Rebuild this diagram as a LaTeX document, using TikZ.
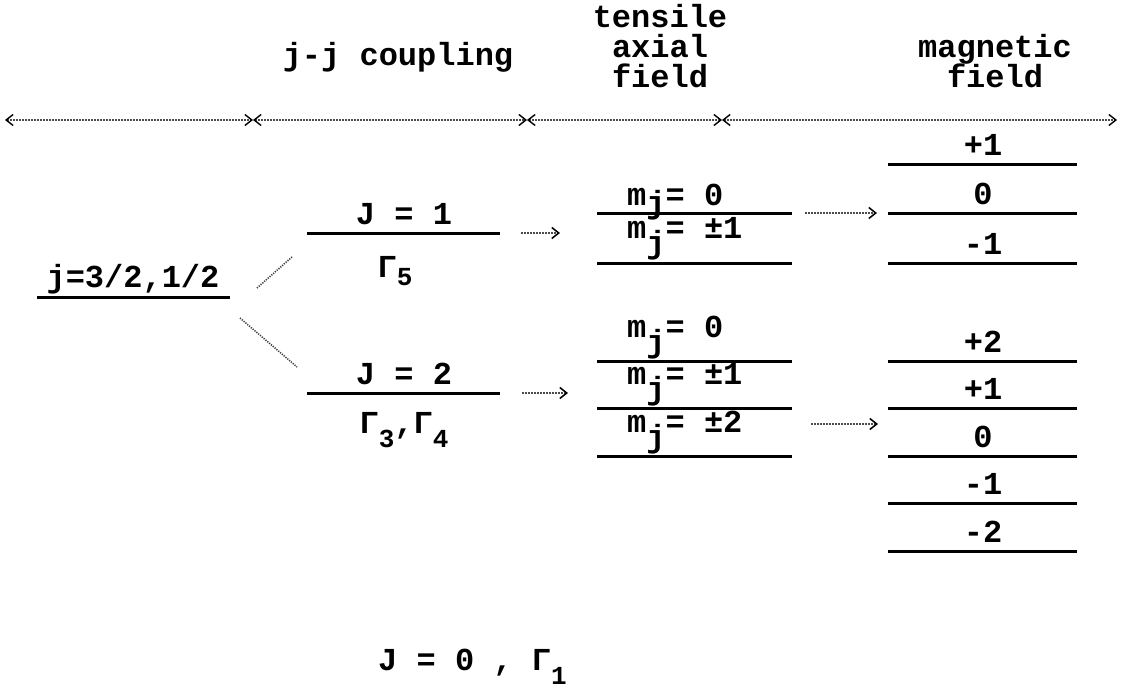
\documentclass[tikz,border=0pt]{standalone}
\usepackage{fontspec}
\setmainfont{Liberation Mono}
\usetikzlibrary{arrows.meta}
% lowered subscript in the typewriter font
\newcommand{\lowsub}[2]{\raisebox{-#1pt}{\fontsize{26}{26}\selectfont #2}}
% m with a lowered j, by a given drop
\newcommand{\mjd}[1]{m\raisebox{-#1pt}{j}}
\begin{document}
\begin{tikzpicture}[x=1pt,y=-1pt,
  every node/.style={inner sep=0pt, font=\fontsize{32}{34}\selectfont\bfseries},
  level/.style={line width=3pt, black},
  span/.style={gray!60!black, line width=1.1pt, dash pattern=on 2pt off 1pt,
    {Straight Barb[length=7pt,width=11pt,line width=1.4pt,black]}-{Straight Barb[length=7pt,width=11pt,line width=1.4pt,black]}},
  cnx/.style={gray!60!black, line width=1.2pt, dash pattern=on 2pt off 1pt,
    -{Straight Barb[length=7pt,width=11pt,line width=1.5pt,black]}},
  link/.style={gray!50!black, line width=1.6pt, dash pattern=on 1.2pt off 1.2pt},
  mlab/.style={anchor=base},
  tlab/.style={anchor=base west}]
\useasboundingbox (0,0) rectangle (1121,690);

% column headings
\node[anchor=base] (hjj) at (398,66) {j-j coupling};
\node[anchor=base] (ht1) at (660,28) {tensile};
\node[anchor=base] (ht2) at (660,58) {axial};
\node[anchor=base] (ht3) at (660,88) {field};
\node[anchor=base] (hm1) at (995,58) {magnetic};
\node[anchor=base] (hm2) at (995,88) {field};

% ranges of the columns
\coordinate (e0) at (5,120);
\coordinate (e1) at (253,120);
\coordinate (e2) at (527,120);
\coordinate (e3) at (722,120);
\coordinate (e4) at (1117,120);
\draw[span] (e0) -- (e1);
\draw[span] (e1) -- (e2);
\draw[span] (e2) -- (e3);
\draw[span] (e3) -- (e4);

% single-particle level
\node[anchor=base] (jlab) at (133,287) {j=3/2,1/2};
\coordinate (jL) at (37,297);
\coordinate (jR) at (230,297);
\draw[level] (jL) -- (jR);
\coordinate (s1a) at (257,288); \coordinate (s1b) at (292,257);
\coordinate (s2a) at (240,318); \coordinate (s2b) at (297,367);
\draw[link] (s1a) -- (s1b);
\draw[link] (s2a) -- (s2b);

% J = 1 branch
\coordinate (J1L) at (307,233); \coordinate (J1R) at (500,233);
\draw[level] (J1L) -- (J1R);
\node[anchor=base] (J1lab) at (404,224) {J = 1};
\node[anchor=base] (G5) at (395,277) {Γ\lowsub{8}{5}};
\coordinate (a1s) at (521,233); \coordinate (a1e) at (560,233);
\draw[cnx] (a1s) -- (a1e);

\foreach \y/\n in {213/ta, 263/tb}
  \draw[level] (597,\y) coordinate (\n L) -- (792,\y) coordinate (\n R);
\node[tlab] (ma0) at (627,205) {\mjd{8}= 0};
\node[tlab] (ma1) at (627,238) {\mjd{15}= ±1};
\coordinate (a2s) at (805,213); \coordinate (a2e) at (877,213);
\draw[cnx] (a2s) -- (a2e);

\foreach \y/\t/\n in {164/+1/mA, 213/0/mB, 263/-1/mC}{
  \draw[level] (888,\y) coordinate (\n L) -- (1077,\y) coordinate (\n R);
  \node[mlab] (\n lab) at (983,\y-9) {\t};
}

% J = 2 branch
\coordinate (J2L) at (307,393); \coordinate (J2R) at (500,393);
\draw[level] (J2L) -- (J2R);
\node[anchor=base] (J2lab) at (404,384) {J = 2};
\node[anchor=base] (G34) at (404,433) {Γ\lowsub{14}{3},Γ\lowsub{14}{4}};
\coordinate (b1s) at (522,393); \coordinate (b1e) at (568,393);
\draw[cnx] (b1s) -- (b1e);

\foreach \y/\n in {361/tc, 408/td, 456/te}
  \draw[level] (597,\y) coordinate (\n L) -- (792,\y) coordinate (\n R);
\node[tlab] (mb0) at (627,337) {\mjd{15}= 0};
\node[tlab] (mb1) at (627,384) {\mjd{15}= ±1};
\node[tlab] (mb2) at (627,432) {\mjd{15}= ±2};
\coordinate (b2s) at (811,424); \coordinate (b2e) at (878,424);
\draw[cnx] (b2s) -- (b2e);

\foreach \y/\t/\n in {361/+2/mD, 408/+1/mE, 456/0/mF, 503/-1/mG, 551/-2/mH}{
  \draw[level] (888,\y) coordinate (\n L) -- (1077,\y) coordinate (\n R);
  \node[mlab] (\n lab) at (983,\y-9) {\t};
}

% J = 0 singlet
\node[tlab] (J0lab) at (378,670) {J = 0 , Γ\lowsub{14}{1}};
\end{tikzpicture}
\end{document}
